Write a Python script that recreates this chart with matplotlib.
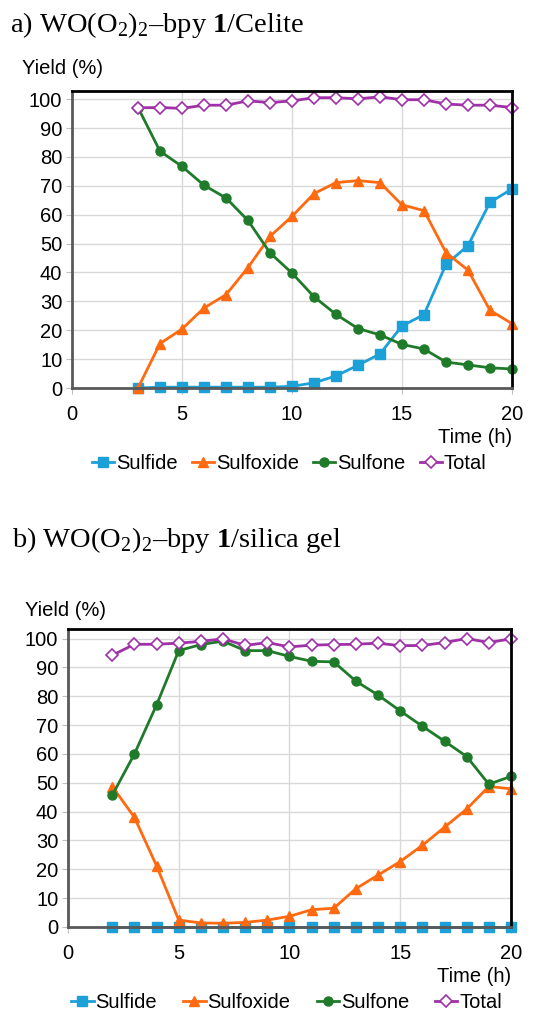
import matplotlib
matplotlib.use('Agg')
import matplotlib.pyplot as plt

plt.rcParams['font.family'] = ['Liberation Sans', 'DejaVu Sans']
plt.rcParams['mathtext.fontset'] = 'custom'
plt.rcParams['mathtext.rm'] = 'Liberation Serif'
plt.rcParams['mathtext.bf'] = 'Liberation Serif:bold'

# data
time_a = [3, 4, 5, 6, 7, 8, 9, 10, 11, 12, 13, 14, 15, 16, 17, 18, 19, 20]
sulfide_a = [0, 0.3, 0.3, 0.3, 0.3, 0.3, 0.3, 0.6, 1.8, 4.2, 7.9, 11.8, 21.5, 25.4, 42.8, 49.3, 64.3, 68.9]
sulfoxide_a = [0, 15.4, 20.4, 27.7, 32.3, 41.7, 52.5, 59.4, 67.3, 71.1, 71.8, 71.1, 63.4, 61.4, 46.9, 40.8, 26.9, 22.3]
sulfone_a = [97.1, 82.0, 76.7, 70.2, 65.8, 58.0, 46.8, 39.8, 31.6, 25.5, 20.6, 18.4, 15.1, 13.5, 9.0, 8.0, 7.0, 6.6]
total_a = [97.0, 97.1, 96.8, 97.9, 97.9, 99.4, 98.8, 99.4, 100.5, 100.5, 100.1, 100.8, 99.8, 99.8, 98.3, 97.9, 97.9, 97.1]

time_b = [2, 3, 4, 5, 6, 7, 8, 9, 10, 11, 12, 13, 14, 15, 16, 17, 18, 19, 20]
sulfide_b = [0, 0, 0, 0, 0, 0, 0, 0, 0, 0, 0, 0, 0, 0, 0, 0, 0, 0, 0]
sulfoxide_b = [48.7, 38.0, 21.2, 2.4, 1.4, 1.3, 1.6, 2.4, 3.7, 6.0, 6.5, 13.3, 18.0, 22.7, 28.3, 34.6, 40.9, 48.7, 47.9]
sulfone_b = [45.7, 60.0, 77.0, 95.8, 97.9, 99.1, 95.8, 95.8, 93.8, 92.1, 91.9, 85.2, 80.4, 74.9, 69.6, 64.4, 59.1, 49.5, 52.2]
total_b = [94.2, 98.0, 98.0, 98.4, 99.0, 99.9, 97.6, 98.6, 97.1, 97.7, 97.9, 98.0, 98.4, 97.5, 97.6, 98.6, 100.0, 98.6, 99.9]

labels = ['Sulfide', 'Sulfoxide', 'Sulfone', 'Total']
colors = ['#1ca0d8', '#ff6a10', '#1f7a2a', '#a030a8']

fig = plt.figure(figsize=(5.34, 10.15), dpi=100)


def draw(ax, t, series, ymax, colsp):
    ax.plot(t, series[0], color=colors[0], lw=2, marker='s', ms=6.5, label=labels[0], clip_on=False)
    ax.plot(t, series[1], color=colors[1], lw=2, marker='^', ms=6.5, label=labels[1], clip_on=False)
    ax.plot(t, series[2], color=colors[2], lw=2, marker='o', ms=6.5, label=labels[2], clip_on=False)
    ax.plot(t, series[3], color=colors[3], lw=2, marker='D', ms=6, mfc='white',
            mew=1.2, label=labels[3], clip_on=False)
    ax.set_xlim(0, 20)
    ax.set_ylim(0, ymax)
    ax.set_xticks([0, 5, 10, 15, 20])
    ax.set_yticks(range(0, 101, 10))
    ax.grid(True, color='#d9d9d9', lw=1)
    ax.set_axisbelow(True)
    ax.tick_params(labelsize=14.5, length=4, color='#bfbfbf', pad=3)
    ax.tick_params(axis='x', pad=8)
    for s in ['top', 'right']:
        ax.spines[s].set_color('black')
        ax.spines[s].set_linewidth(2)
    for s in ['left', 'bottom']:
        ax.spines[s].set_color('#595959')
        ax.spines[s].set_linewidth(2)
    ax.text(1.0, -0.165, 'Time (h)', transform=ax.transAxes, ha='right', va='center', fontsize=14.5)
    ax.legend(loc='center', bbox_to_anchor=(0.494, -0.255), ncol=4, frameon=False, fontsize=14.5,
              handlelength=1.1, handletextpad=0.1, columnspacing=colsp, borderaxespad=0)


ax1 = fig.add_axes([0.1348, 0.6177, 0.824, 0.2926])
draw(ax1, time_a, [sulfide_a, sulfoxide_a, sulfone_a, total_a], 102.8, 0.7)
ax2 = fig.add_axes([0.1273, 0.0867, 0.8296, 0.2936])
draw(ax2, time_b, [sulfide_b, sulfoxide_b, sulfone_b, total_b], 103.3, 1.3)

fig.text(10 / 534, 1 - 25 / 1015, r'a) WO(O$_2$)$_2$–bpy $\mathbf{1}$/Celite', family='Liberation Serif',
         fontsize=20.5, va='center', ha='left')
fig.text(12 / 534, 1 - 540 / 1015, r'b) WO(O$_2$)$_2$–bpy $\mathbf{1}$/silica gel', family='Liberation Serif',
         fontsize=20.5, va='center', ha='left')
fig.text(22 / 534, 1 - 68 / 1015, 'Yield (%)', fontsize=14.5, va='center', ha='left')
fig.text(25 / 534, 1 - 611 / 1015, 'Yield (%)', fontsize=14.5, va='center', ha='left')

fig.savefig('out.png', dpi=100)
